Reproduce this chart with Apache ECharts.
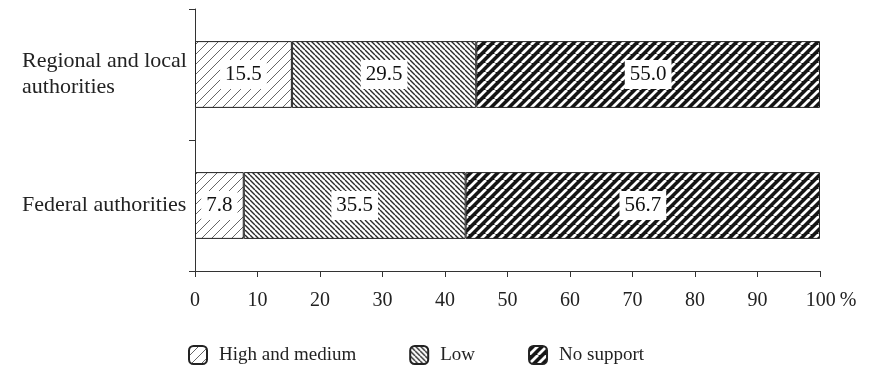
<!DOCTYPE html>
<html>
<head>
<meta charset="utf-8">
<script src="https://cdn.jsdelivr.net/npm/echarts@6/dist/echarts.min.js"></script>
<style>
html,body{margin:0;padding:0;background:#fff;}
#chart{width:878px;height:365px;}
</style>
</head>
<body>
<div id="chart"></div>
<script>
const categories = ['Federal authorities', 'Regional and local\nauthorities'];
const seriesNames = ['High and medium', 'Low', 'No support'];
const highMedium = [7.8, 15.5];
const low = [35.5, 29.5];
const noSupport = [56.7, 55.0];
const xTicks = [0, 10, 20, 30, 40, 50, 60, 70, 80, 90, 100];

function makePattern(size, bg, fg, lw, dir) {
  const c = document.createElement('canvas');
  c.width = size; c.height = size;
  const ctx = c.getContext('2d');
  ctx.fillStyle = bg; ctx.fillRect(0, 0, size, size);
  ctx.strokeStyle = fg; ctx.lineWidth = lw;
  ctx.beginPath();
  for (const o of [-size, 0, size]) {
    if (dir === '/') { ctx.moveTo(o, size); ctx.lineTo(o + size, 0); }
    else { ctx.moveTo(o, 0); ctx.lineTo(o + size, size); }
  }
  ctx.stroke();
  return c;
}

const patterns = [
  { image: makePattern(10, '#ffffff', '#555555', 0.9, '/'), repeat: 'repeat' },
  { image: makePattern(5, '#ffffff', '#2a2a2a', 1.4, '\\'), repeat: 'repeat' },
  { image: makePattern(9, '#151515', '#ffffff', 2.8, '/'), repeat: 'repeat' }
];

const font = 'Liberation Serif';
const dataSets = [highMedium, low, noSupport];

const chart = echarts.init(document.getElementById('chart'), null, { renderer: 'canvas' });
chart.setOption({
  animation: false,
  textStyle: { fontFamily: font },
  grid: { left: 195, right: 58, top: 9, bottom: 94, containLabel: false },
  legend: {
    left: 183, top: 340,
    itemWidth: 18, itemHeight: 18, itemGap: 53,
    textStyle: { fontFamily: font, fontSize: 19, color: '#222', padding: [0, 0, 0, 7] },
    data: seriesNames
  },
  xAxis: {
    type: 'value', min: 0, max: 100, interval: 10,
    axisLine: { show: true, lineStyle: { color: '#333', width: 1 } },
    axisTick: { show: true, length: 6, lineStyle: { color: '#333' } },
    axisLabel: {
      fontFamily: font, fontSize: 20, color: '#222', margin: 20,
      formatter: v => {
        if (!xTicks.includes(v)) return '';
        return v === 100 ? '{pad| }100{pct|%}' : String(v);
      },
      rich: {
        pad: { width: 22, fontSize: 20 },
        pct: { fontSize: 20, fontFamily: font, color: '#222', padding: [0, 0, 0, 4] }
      }
    },
    splitLine: { show: false }
  },
  yAxis: {
    type: 'category', data: categories,
    axisLine: { show: true, lineStyle: { color: '#333', width: 1 } },
    axisTick: { show: true, length: 6, lineStyle: { color: '#333' } },
    axisLabel: { fontFamily: font, fontSize: 22, color: '#222', align: 'left', margin: 173, lineHeight: 26 }
  },
  series: seriesNames.map((name, i) => ({
    name, type: 'bar', stack: 'total', barWidth: '51%',
    data: dataSets[i],
    itemStyle: { color: patterns[i], borderColor: '#222', borderWidth: 1 },
    label: {
      show: true, position: 'inside',
      formatter: p => p.value.toFixed(1),
      backgroundColor: '#fff', padding: [4, 5],
      fontFamily: font, fontSize: 21, color: '#111'
    }
  }))
});
</script>
</body>
</html>
